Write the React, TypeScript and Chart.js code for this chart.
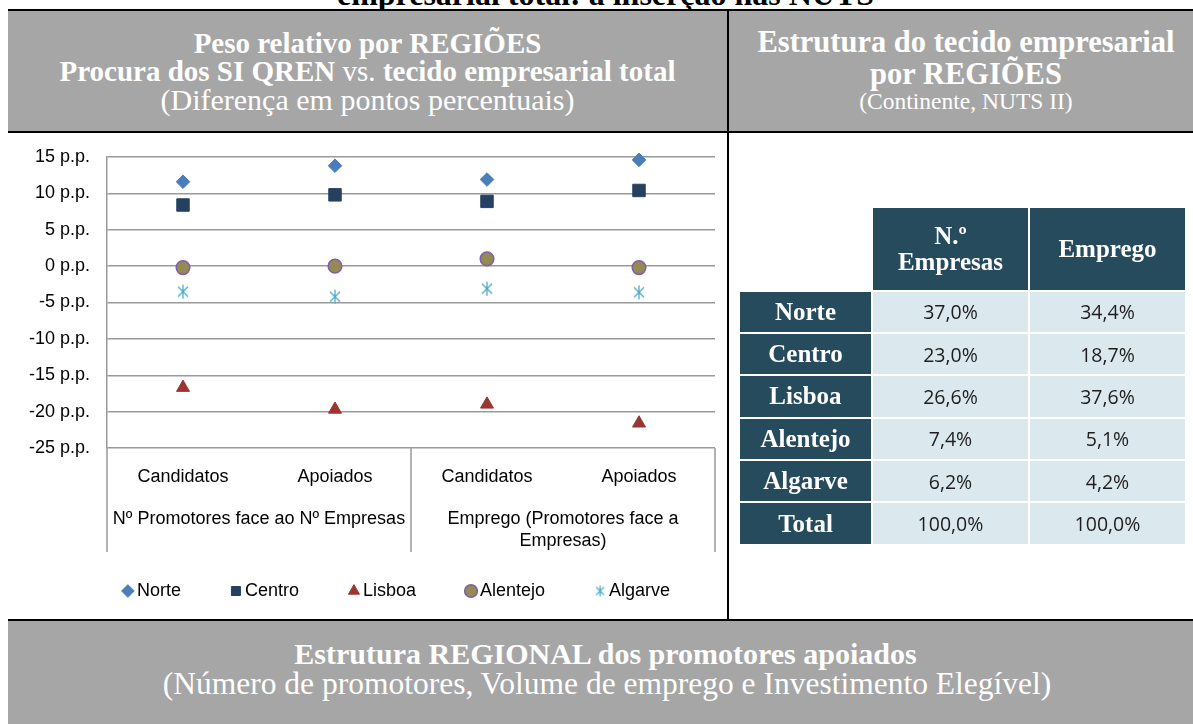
import React, { useEffect, useRef } from 'react';
import { Chart, registerables } from 'chart.js';

Chart.register(...registerables);

// ---------- data ----------
const categories = ['Candidatos', 'Apoiados', 'Candidatos', 'Apoiados'];
const groupLabels: (string | string[])[] = [
  'Nº Promotores face ao Nº Empresas',
  ['Emprego (Promotores face a', 'Empresas)'],
];
const norte = [11.6, 13.8, 11.9, 14.6];
const centro = [8.4, 9.8, 8.9, 10.4];
const lisboa = [-16.7, -19.7, -19.0, -21.6];
const alentejo = [-0.2, 0.0, 1.0, -0.2];
const algarve = [-3.5, -4.2, -3.1, -3.6];
const yMin = -25;
const yMax = 15;
const yStep = 5;
const yUnit = ' p.p.';

const tableRegions = ['Norte', 'Centro', 'Lisboa', 'Alentejo', 'Algarve', 'Total'];
const tableEmpresas = ['37,0%', '23,0%', '26,6%', '7,4%', '6,2%', '100,0%'];
const tableEmprego = ['34,4%', '18,7%', '37,6%', '5,1%', '4,2%', '100,0%'];

// ---------- styles ----------
const SERIF = '"Liberation Serif", "Times New Roman", serif';
const SANS = '"Liberation Sans", Arial, sans-serif';
const GREY = '#a6a6a6';
const DARK = '#264b5c';
const LIGHT = '#dbe8ee';
const GRID = '#9a9a9a';
const LEGEND_SHIFT = 25;

function makeAsterisk(size: number, color: string, lw: number) {
  const c = document.createElement('canvas');
  c.width = size;
  c.height = size;
  const ctx = c.getContext('2d')!;
  ctx.strokeStyle = color;
  ctx.lineWidth = lw;
  const m = size / 2;
  const r = size / 2 - 1;
  const d = r * 0.72;
  ctx.beginPath();
  ctx.moveTo(m, m - r);
  ctx.lineTo(m, m + r);
  ctx.moveTo(m - d, m - d);
  ctx.lineTo(m + d, m + d);
  ctx.moveTo(m + d, m - d);
  ctx.lineTo(m - d, m + d);
  ctx.stroke();
  return c;
}

const separators = {
  id: 'separators',
  afterDraw(chart: any) {
    const { ctx, chartArea, scales } = chart;
    const x2 = scales.x2;
    if (!x2) return;
    const mid = (x2.getPixelForValue(0) + x2.getPixelForValue(1)) / 2;
    const xs = [chartArea.left, mid, chartArea.right];
    ctx.save();
    ctx.strokeStyle = GRID;
    ctx.lineWidth = 1.5;
    ctx.beginPath();
    xs.forEach((x) => {
      ctx.moveTo(x, chartArea.bottom);
      ctx.lineTo(x, x2.bottom);
    });
    ctx.stroke();
    ctx.restore();
  },
};

// legend keeps wide horizontal gaps but sits closer to the axis
const legendShift = {
  id: 'legendShift',
  beforeLayout(chart: any) {
    const lg = chart.legend;
    if (lg && !lg.__patched) {
      const orig = lg.fit;
      lg.fit = function () {
        orig.call(this);
        this.height -= LEGEND_SHIFT;
      };
      lg.__patched = true;
    }
  },
  afterLayout(chart: any) {
    const lg = chart.legend;
    if (lg) {
      lg.top -= LEGEND_SHIFT;
    }
  },
};

function ScatterChart() {
  const ref = useRef<HTMLCanvasElement>(null);
  useEffect(() => {
    if (!ref.current) return;
    const star = makeAsterisk(16, '#4bacc6', 1.3);
    const starSmall = makeAsterisk(13, '#4bacc6', 1.2);
    const font = { family: SANS, size: 18 };
    const common = { showLine: false, clip: false };
    const chart = new Chart(ref.current, {
      type: 'line',
      data: {
        labels: categories,
        datasets: [
          { ...common, label: 'Norte', data: norte, pointStyle: 'rectRot', pointRadius: 6.8, backgroundColor: '#4a7ebb', borderColor: '#4a7ebb', borderWidth: 1 },
          { ...common, label: 'Centro', data: centro, pointStyle: 'rect', pointRadius: 8.8, backgroundColor: '#254061', borderColor: '#254061', borderWidth: 1 },
          { ...common, label: 'Lisboa', data: lisboa, pointStyle: 'triangle', pointRadius: 7.5, backgroundColor: '#9b3532', borderColor: '#9b3532', borderWidth: 1 },
          { ...common, label: 'Alentejo', data: alentejo, pointStyle: 'circle', pointRadius: 6.8, backgroundColor: '#948a54', borderColor: '#7f5fa8', borderWidth: 1.5 },
          { ...common, label: 'Algarve', data: algarve, pointStyle: star as any, pointRadius: 7, backgroundColor: '#4bacc6', borderColor: '#4bacc6', borderWidth: 1 },
        ] as any,
      },
      options: {
        responsive: false,
        animation: false,
        events: [],
        layout: { padding: { top: 24, bottom: 9, left: 0, right: 0 } },
        plugins: {
          tooltip: { enabled: false },
          legend: {
            position: 'bottom',
            labels: {
              usePointStyle: true,
              boxWidth: 0.01,
              boxHeight: 9,
              padding: 55,
              color: '#000',
              font,
              generateLabels: (chart: any) => {
                const items = Chart.defaults.plugins.legend.labels.generateLabels(chart);
                return items.map((it: any) => (it.text === 'Algarve' ? { ...it, pointStyle: starSmall } : it));
              },
            },
          },
        },
        scales: {
          x: {
            type: 'category',
            position: 'bottom',
            offset: true,
            grid: { display: false, drawTicks: false },
            border: { display: false },
            ticks: { color: '#000', font, padding: 18.2, autoSkip: false, maxRotation: 0 },
            afterFit: (s: any) => { s.height = 50; },
          },
          x2: {
            type: 'category',
            position: 'bottom',
            labels: groupLabels as any,
            offset: true,
            grid: { display: false, drawTicks: false },
            border: { display: false },
            ticks: { color: '#000', font, padding: 10.2, autoSkip: false, maxRotation: 0 },
            afterFit: (s: any) => { s.height = 54; },
          },
          y: {
            type: 'linear',
            position: 'left',
            min: yMin,
            max: yMax,
            ticks: {
              stepSize: yStep,
              color: '#000',
              font,
              padding: 17,
              callback: (v: any) => `${v}${yUnit}`,
            },
            grid: { color: GRID, lineWidth: 1.5, drawTicks: false },
            border: { display: true, color: GRID, width: 1.5 },
            afterFit: (s: any) => {
              s.width = 99;
              s.paddingTop = 0;
              s.paddingBottom = 0;
            },
          },
          yR: {
            type: 'linear',
            position: 'right',
            min: yMin,
            max: yMax,
            ticks: { display: false },
            grid: { display: false },
            border: { display: false },
            afterFit: (s: any) => {
              s.width = 75;
              s.paddingTop = 0;
              s.paddingBottom = 0;
            },
          },
        },
      } as any,
      plugins: [separators, legendShift],
    });
    return () => chart.destroy();
  }, []);
  return <canvas ref={ref} width={782} height={486} style={{ display: 'block', width: 782, height: 486 }} />;
}

function Line({ children, baseline, size, bold, cx }: { children: React.ReactNode; baseline: number; size: number; bold?: boolean; cx: number }) {
  return (
    <div
      style={{
        position: 'absolute',
        left: cx - 600,
        width: 1200,
        top: baseline - 0.8375 * size,
        lineHeight: `${size}px`,
        fontSize: size,
        fontFamily: SERIF,
        fontWeight: bold ? 700 : 400,
        color: '#fff',
        textAlign: 'center',
        whiteSpace: 'nowrap',
      }}
    >
      {children}
    </div>
  );
}

const abs = (l: number, t: number, w: number, h: number, bg: string): React.CSSProperties => ({
  position: 'absolute', left: l, top: t, width: w, height: h, background: bg,
});

export default function App() {
  const cellBase: React.CSSProperties = {
    display: 'flex', alignItems: 'center', justifyContent: 'center', textAlign: 'center',
  };
  const labelCell: React.CSSProperties = {
    ...cellBase, background: DARK, color: '#fff', fontFamily: SERIF, fontWeight: 700, fontSize: 25,
  };
  const valueCell: React.CSSProperties = {
    ...cellBase, background: LIGHT, color: '#1e1e1e', fontFamily: '"Open Sans", "Noto Sans", sans-serif', fontSize: 19.5,
  };
  return (
    <div style={{ position: 'fixed', left: 0, top: 0, width: 1193, height: 724, overflow: 'hidden', background: '#fff' }}>
      {/* cut-off title */}
      <div
        style={{
          position: 'absolute', left: 605.5 - 600, width: 1200, top: 4.5 - 0.8375 * 32, lineHeight: '32px',
          fontSize: 32, fontFamily: SERIF, fontWeight: 700, color: '#000', textAlign: 'center', whiteSpace: 'nowrap',
        }}
      >
        empresarial total: a inserção nas NUTS
      </div>

      {/* header panels */}
      <div style={abs(8, 11, 719, 120, GREY)} />
      <div style={abs(729, 11, 480, 120, GREY)} />
      <Line cx={367.5} baseline={53} size={29} bold>Peso relativo por REGIÕES</Line>
      <Line cx={367.5} baseline={81.5} size={29} bold>
        Procura dos SI QREN <span style={{ fontWeight: 400 }}>vs.</span> tecido empresarial total
      </Line>
      <Line cx={367.5} baseline={110} size={30}>(Diferença em pontos percentuais)</Line>
      <Line cx={966} baseline={53} size={30.5} bold>Estrutura do tecido empresarial</Line>
      <Line cx={966} baseline={85} size={30.5} bold>por REGIÕES</Line>
      <Line cx={966} baseline={110} size={23.5}>(Continente, NUTS II)</Line>

      {/* chart */}
      <div style={{ position: 'absolute', left: 8, top: 133 }}>
        <ScatterChart />
      </div>

      {/* table */}
      <div
        style={{
          position: 'absolute', left: 740, top: 208, display: 'grid',
          gridTemplateColumns: '131px 155px 155px', gridTemplateRows: '81.5px repeat(6, 40.4px)',
          columnGap: 2, rowGap: 2,
        }}
      >
        <div />
        <div style={{ ...labelCell, lineHeight: '26px' }}>N.º<br />Empresas</div>
        <div style={labelCell}>Emprego</div>
        {tableRegions.map((r, i) => (
          <React.Fragment key={r}>
            <div style={labelCell}>{r}</div>
            <div style={valueCell}>{tableEmpresas[i]}</div>
            <div style={valueCell}>{tableEmprego[i]}</div>
          </React.Fragment>
        ))}
      </div>

      {/* bottom panel */}
      <div style={abs(8, 621, 1200, 110, GREY)} />
      <Line cx={605.5} baseline={664} size={30} bold>Estrutura REGIONAL dos promotores apoiados</Line>
      <Line cx={607} baseline={694} size={31.5}>(Número de promotores, Volume de emprego e Investimento Elegível)</Line>

      {/* black rules */}
      <div style={abs(8, 9, 1200, 2, '#000')} />
      <div style={abs(8, 131, 1200, 2, '#000')} />
      <div style={abs(8, 619, 1200, 2, '#000')} />
      <div style={abs(727, 9, 2, 612, '#000')} />
    </div>
  );
}
